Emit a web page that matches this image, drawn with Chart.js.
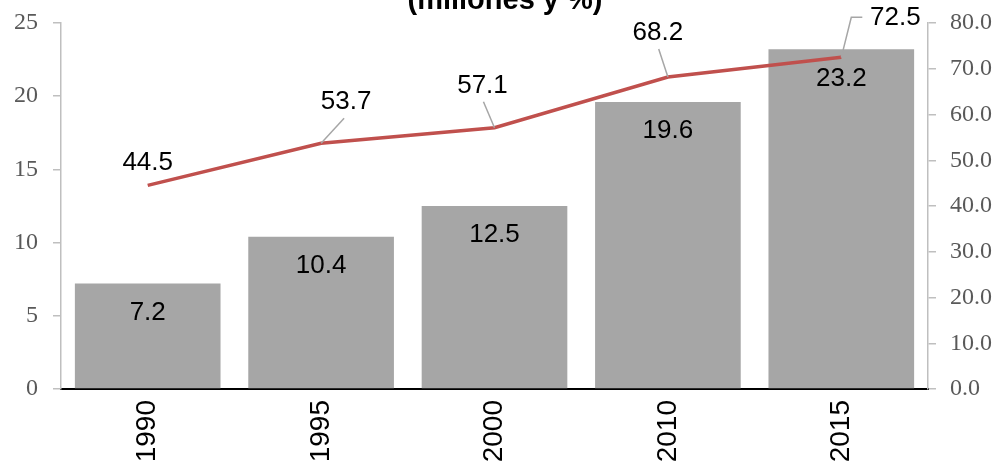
<!DOCTYPE html>
<html>
<head>
<meta charset="utf-8">
<script src="https://cdn.jsdelivr.net/npm/chart.js@4/dist/chart.umd.min.js"></script>
<style>
  body { margin: 0; background: #fff; }
  canvas { display: block; }
</style>
</head>
<body>
<canvas id="chart" width="998" height="466"></canvas>
<script>
  /* data */
  var years = ["1990", "1995", "2000", "2010", "2015"];
  var millones = [7.2, 10.4, 12.5, 19.6, 23.2];
  var porcentaje = [44.5, 53.7, 57.1, 68.2, 72.5];

  /* where each line label sits relative to its point, and whether it gets a leader */
  var lineLabelPos = [
    { dx: 0, dy: -23, leader: false },
    { dx: 25, dy: -41, leader: true },
    { dx: -12, dy: -42, leader: true },
    { dx: -10, dy: -44, leader: true },
    { dx: 54, dy: -39, leader: true, elbow: true }
  ];

  var labelsPlugin = {
    id: "labels",
    afterDatasetsDraw: function (chart) {
      var ctx = chart.ctx;
      ctx.save();
      ctx.font = "26px 'Liberation Sans', Arial, sans-serif";
      ctx.fillStyle = "#000";
      ctx.textAlign = "center";
      ctx.textBaseline = "middle";

      // bar labels inside top
      var barMeta = chart.getDatasetMeta(1);
      barMeta.data.forEach(function (bar, i) {
        ctx.fillText(millones[i].toFixed(1), bar.x, bar.y + 29);
      });

      // line labels with leader lines
      var lineMeta = chart.getDatasetMeta(0);
      lineMeta.data.forEach(function (pt, i) {
        var p = lineLabelPos[i];
        var lx = pt.x + p.dx, ly = pt.y + p.dy;
        if (p.leader) {
          ctx.strokeStyle = "#A6A6A6";
          ctx.lineWidth = 1.5;
          ctx.beginPath();
          ctx.moveTo(pt.x, pt.y);
          if (p.elbow) {
            ctx.lineTo(pt.x + 10, ly - 1);
            ctx.lineTo(lx - 33, ly - 1);
          } else {
            ctx.lineTo(lx - p.dx * 0.08, ly + 16);
          }
          ctx.stroke();
        }
        ctx.fillText(porcentaje[i].toFixed(1), lx, ly);
      });

      // title (first line falls outside the picture)
      ctx.font = "bold 29px 'Liberation Sans', Arial, sans-serif";
      ctx.textBaseline = "alphabetic";
      ctx.fillText("(millones y %)", 505, 9);
      ctx.restore();
    }
  };

  var tickFont = { family: "'Liberation Serif', serif", size: 24 };

  function fixY(width) {
    return function (s) {
      s.width = width;
      s.paddingTop = 0;
      s.paddingBottom = 0;
    };
  }

  new Chart("chart", {
    data: {
      labels: years,
      datasets: [{
        type: "line",
        data: porcentaje,
        yAxisID: "y2",
        borderColor: "#C0504D",
        borderWidth: 3.5,
        pointRadius: 0,
        tension: 0,
        order: 0
      }, {
        type: "bar",
        data: millones,
        yAxisID: "y",
        backgroundColor: "#A6A6A6",
        barPercentage: 0.84,
        categoryPercentage: 1,
        order: 1
      }]
    },
    options: {
      responsive: false,
      animation: false,
      layout: { padding: { top: 23, left: 0, right: 0, bottom: 0 } },
      plugins: {
        legend: { display: false },
        tooltip: { enabled: false }
      },
      scales: {
        x: {
          grid: { display: false, drawTicks: false },
          border: { color: "#000", width: 2 },
          ticks: {
            minRotation: 90,
            maxRotation: 90,
            padding: 11,
            color: "#000",
            font: { family: "'Liberation Sans', Arial, sans-serif", size: 28 }
          },
          afterFit: function (s) { s.height = 77; s.paddingLeft = 0; s.paddingRight = 0; }
        },
        y: {
          position: "left",
          min: 0,
          max: 25,
          ticks: { stepSize: 5, color: "#595959", font: tickFont, padding: 15 },
          grid: { drawOnChartArea: false, color: "#BFBFBF", tickLength: 8, lineWidth: 1.5 },
          border: { color: "#BFBFBF", width: 1.5 },
          afterFit: fixY(61)
        },
        y2: {
          position: "right",
          min: 0,
          max: 80,
          ticks: {
            stepSize: 10,
            color: "#595959",
            font: tickFont,
            padding: 14,
            callback: function (v) { return v.toFixed(1); }
          },
          grid: { drawOnChartArea: false, color: "#BFBFBF", tickLength: 8, lineWidth: 1.5 },
          border: { color: "#BFBFBF", width: 1.5 },
          afterFit: fixY(70)
        }
      }
    },
    plugins: [labelsPlugin]
  });
</script>
</body>
</html>
